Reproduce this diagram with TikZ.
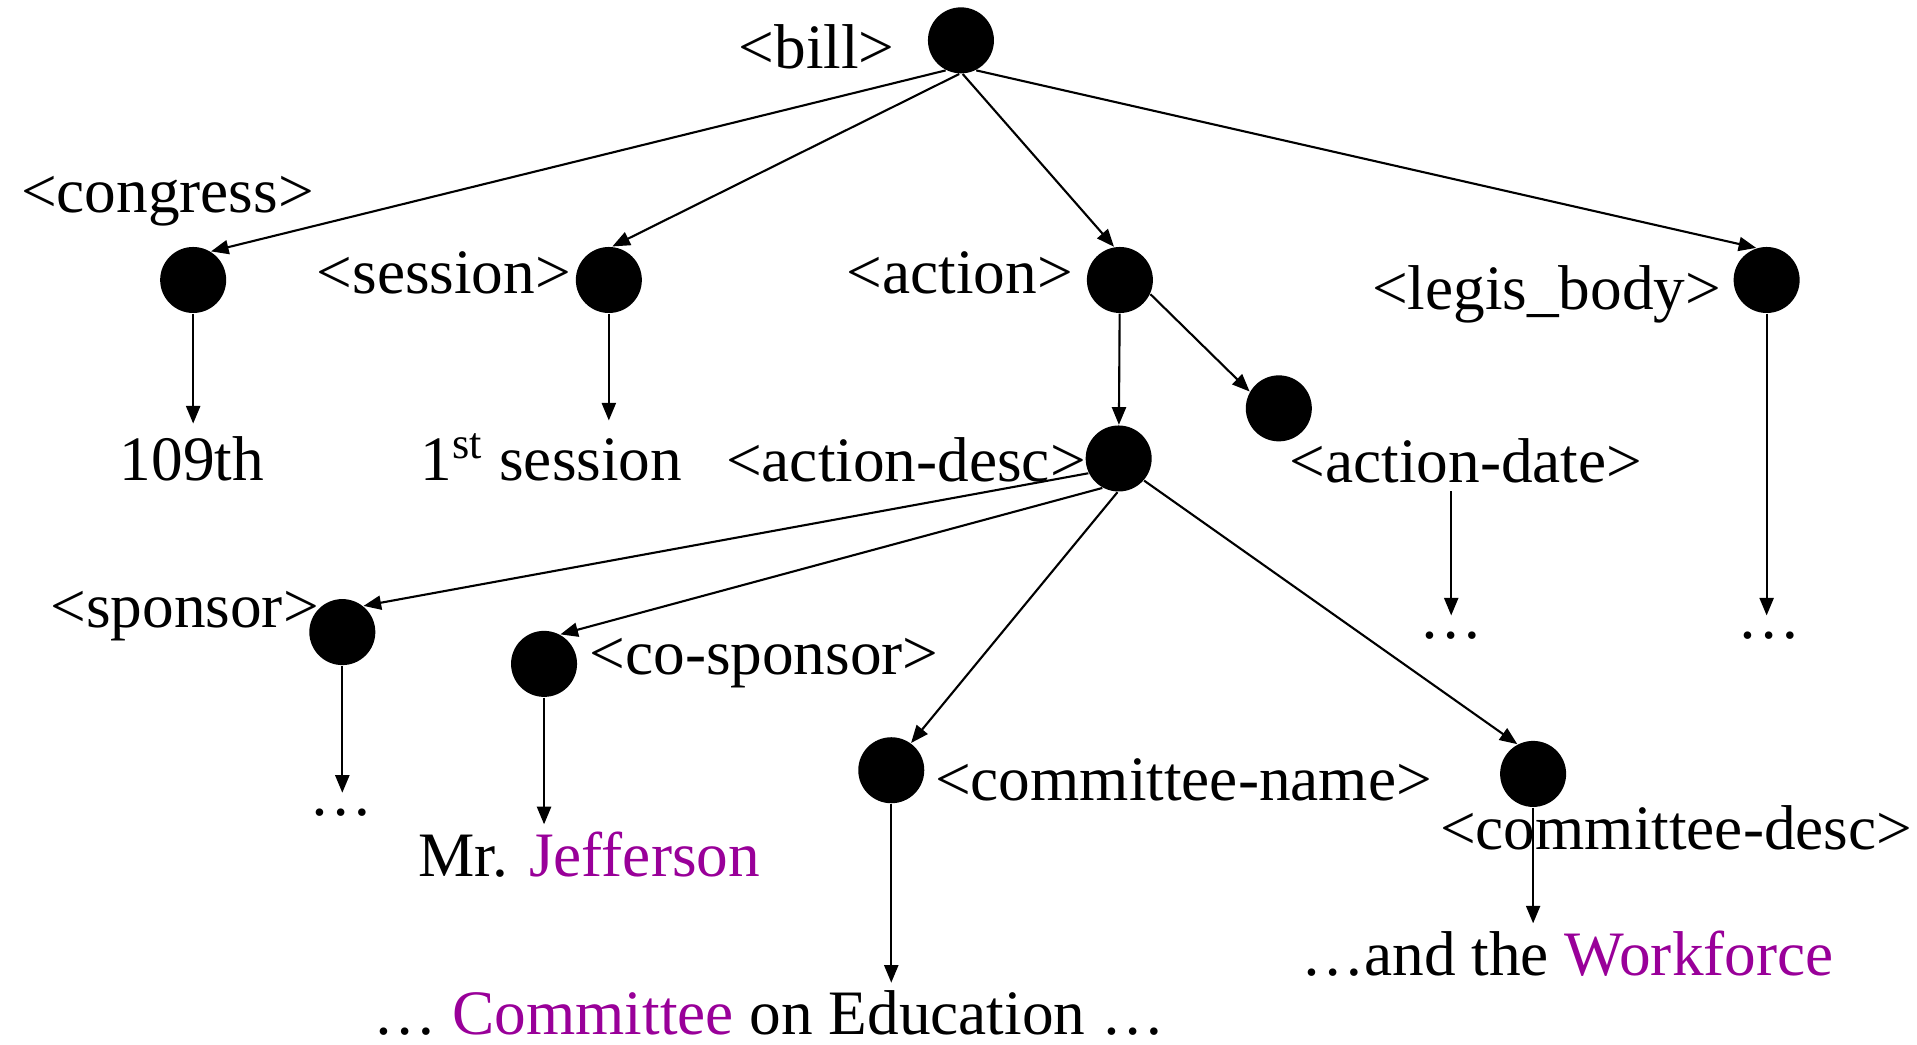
\documentclass[tikz,border=0pt]{standalone}
\usepackage{fontspec}
\setmainfont{Liberation Serif}
\usetikzlibrary{arrows.meta}
\definecolor{keyword}{RGB}{153,0,153}

\begin{document}
\begin{tikzpicture}[x=0.012226cm, y=-0.012226cm,
		node_style/.style={circle,fill=black,inner sep=0pt,minimum size=0.66cm},
		label_style/.style={font=\fontsize{18}{21}\selectfont,inner sep=2pt,anchor=base},
		dots_style/.style={label_style,text height=0.15cm},
		edge_style/.style={draw=black,line width=0.6pt,-{Triangle[length=5pt,width=4pt]}}]
		
		\useasboundingbox (0,0) rectangle (1568,854);
		
		\node[node_style] (bill) at (786,33) {};
		\node[node_style] (congress) at (158,229) {};
		\node[node_style] (session) at (498,229) {};
		\node[node_style] (action) at (916,229) {};
		\node[node_style] (legis) at (1445,229) {};
		\node[node_style] (adate) at (1046,334) {};
		\node[node_style] (adesc) at (915,375) {};
		\node[node_style] (sponsor) at (280,517) {};
		\node[node_style] (cosp) at (445,543) {};
		\node[node_style] (cname) at (729,630) {};
		\node[node_style] (cdesc) at (1254,633) {};
		
		\node[label_style] (l_bill) at (668,56) {<bill>};
		\node[label_style] (l_congress) at (137,174) {<congress>};
		\node[label_style] (l_session) at (363,240) {<session>};
		\node[label_style] (l_action) at (785,240) {<action>};
		\node[label_style] (l_legis) at (1265,253) {<legis\_body>};
		\node[label_style] (l_adesc) at (741,394) {<action-desc>};
		\node[label_style] (l_adate) at (1199,395) {<action-date>};
		\node[label_style] (l_sponsor) at (151,513) {<sponsor>};
		\node[label_style] (l_cosp) at (625,552) {<co-sponsor>};
		\node[label_style] (l_cname) at (968,655) {<committee-name>};
		\node[label_style] (l_cdesc) at (1371,695) {<committee-desc>};
		
		\node[label_style,inner ysep=3.5pt] (t_109) at (157,393) {109th};
		\node[label_style,inner ysep=3.5pt] (t_sess) at (451,393) {1\textsuperscript{st} session};
		\node[label_style] (t_jeff) at (482,717) {Mr. \textcolor{keyword}{Jefferson}};
		\node[label_style] (t_edu) at (629,846) {… \textcolor{keyword}{Committee} on Education …};
		\node[label_style] (t_work) at (1282,798) {…and the \textcolor{keyword}{Workforce}};
		\node[dots_style] (d_sponsor) at (279,667) {…};
		\node[dots_style] (d_adate) at (1187,522) {…};
		\node[dots_style] (d_legis) at (1447,522) {…};
		
		\draw[edge_style]  (bill.243) -- (congress.58);
		\draw[edge_style]  (bill.267) -- (session.84);
		\draw[edge_style]  (bill.273) -- (action.100);
		\draw[edge_style]  (bill.297) -- (legis.108);
		\draw[edge_style]  (congress) -- (congress |- t_109.north);
		\draw[edge_style]  (session) -- (session |- t_sess.north);
		\draw[edge_style]  (action) -- (adesc);
		\draw[edge_style]  (action.-25) -- (adate.150);
		\draw[edge_style]  (legis) -- (legis |- d_legis.north);
		\draw[edge_style]  (l_adate.south -| d_adate.north) -- (d_adate.north);
		\draw[edge_style]  (adesc.206) -- (sponsor.51);
		\draw[edge_style]  (adesc.241) -- (cosp.61);
		\draw[edge_style]  (adesc.268) -- (cname.54);
		\draw[edge_style]  (adesc.-41) -- (cdesc.118);
		\draw[edge_style]  (sponsor) -- (sponsor |- d_sponsor.north);
		\draw[edge_style]  (cosp) -- (cosp |- t_jeff.north);
		\draw[edge_style]  (cname) -- (cname |- t_edu.north);
		\draw[edge_style]  (cdesc) -- (cdesc |- t_work.north);
		
		\end{tikzpicture}
\end{document}
